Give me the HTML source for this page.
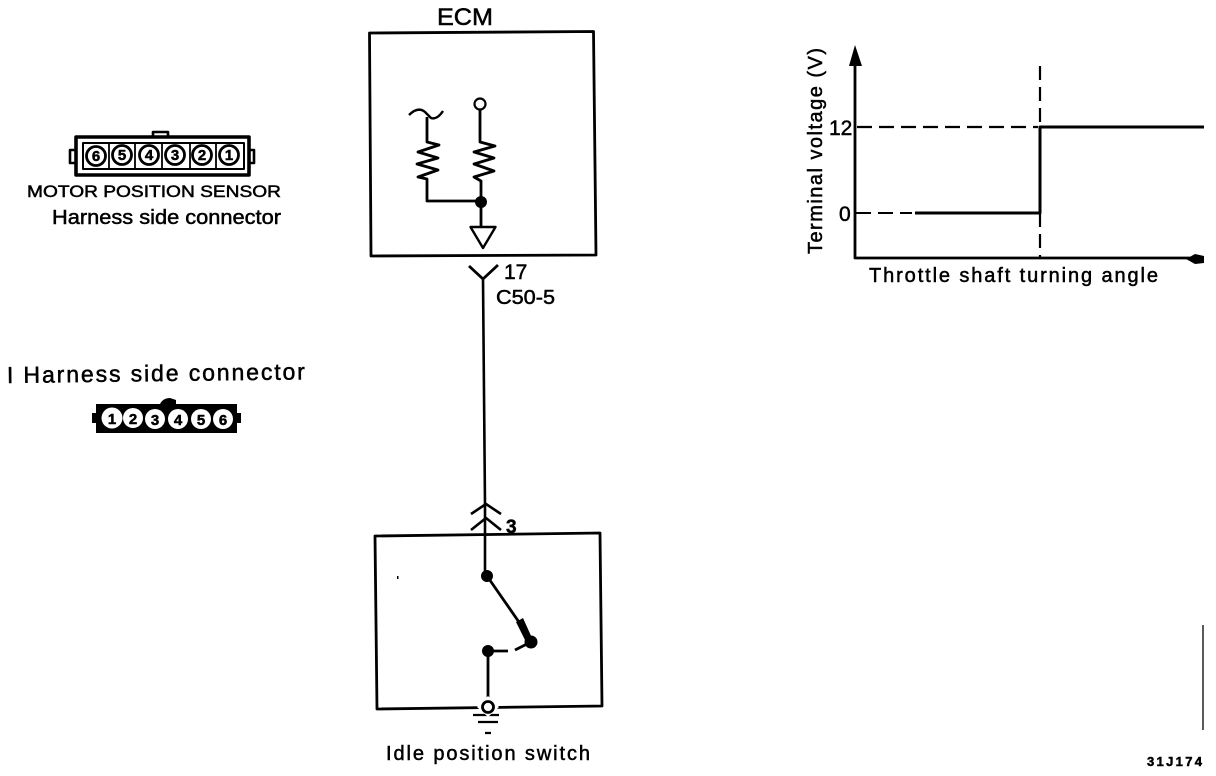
<!DOCTYPE html>
<html>
<head>
<meta charset="utf-8">
<style>
html,body{margin:0;padding:0;background:#fff;width:1216px;height:776px;overflow:hidden}
svg{display:block}
text{font-family:"Liberation Sans",sans-serif;fill:#000;stroke:#000;stroke-width:.5}
</style>
</head>
<body>
<svg width="1216" height="776" viewBox="0 0 1216 776" xmlns="http://www.w3.org/2000/svg">
<g fill="none" stroke="#000" stroke-width="2.8" stroke-linejoin="round">
  <!-- ECM box -->
  <path d="M369.5 33 L593.5 31.5 L596 255 L371 256 Z"/>
  <!-- ECM internals -->
  <path d="M409 115 Q418 106 425 112 Q429 116 431 118 Q437 120 443 111" stroke-width="2.4"/>
  <path d="M427 117 V142 L439 145 L418 152 L438 158 L417 164 L438 170 L418 177 L427 179 V201 H481"/>
  <circle cx="480" cy="104" r="5.5" stroke-width="2.2"/>
  <path d="M480 110 V142 L495 146 L474 152 L494 158 L474 164 L494 171 L474 177 L481 181 V228"/>
  <path d="M470.5 227 H495.5 L483 248 Z" stroke-width="2.4"/>
  <!-- Connector 17 -->
  <path d="M469 266 L483 279 L498 265"/>
  <path d="M483 279 L485 505 V576" stroke-width="2.6"/>
  <!-- Switch connector -->
  <path d="M471 514 L486 504 L501 514 M471 530 L486 518 L501 530 " stroke-width="2.6"/>
  <!-- Switch box -->
  <path d="M375 536 L600 533 L602 706 L377 709 Z"/>
  <path d="M487 576 L521 625 L531 642 L515 650" stroke-width="2.8"/>
  <path d="M489 651 H508" stroke-width="2.8"/>
  <path d="M488 651 V703" stroke-width="2.8"/>
  <path d="M473 715 H499 M478 722 H498 M485 733 H491" stroke-width="2.2"/>
  <!-- Graph -->
  <path d="M855 60 V258 H1190" stroke-width="2.8"/>
  <path d="M1040 66 V258" stroke-width="2.2" stroke-dasharray="14 7"/>
  <path d="M857 127 H1038" stroke-width="2.2" stroke-dasharray="15 7"/>
  <path d="M856 213 H912" stroke-width="2" stroke-dasharray="15 7"/>
  <path d="M915 213 H1040 V127 H1204" stroke-width="3"/>
  <path d="M1203 625 V730" stroke-width="1.3"/>
  <!-- Top connector -->
  <path d="M76 137 H249 V175 H76 Z" stroke-width="3.6"/>
  <path d="M83 143 H244 V169 H83 Z" stroke-width="2"/>
  <path d="M153 136 V132 H168 V136 M76 150 H70 V163 H76 M249 150 H254 V163 H249" stroke-width="2.6"/>
  <path d="M109 143 V169 M135 143 V169 M162 143 V169 M190 143 V169 M216 143 V169" stroke-width="1.8"/>
</g>
<g fill="#000" stroke="none">
  <circle cx="481" cy="202" r="6"/>
  <circle cx="487" cy="576" r="6"/>
  <circle cx="488" cy="651" r="6"/>
  <circle cx="531" cy="642" r="6.5"/>
  <path d="M516 622 L523 618 L532 638 L526 642 Z"/>
  <path d="M855 45 L862 66 H849 Z"/>
  <path d="M1186 259 L1195 254 L1204 256 V263 L1195 264 Z"/>
  <rect x="397" y="576" width="1.5" height="3"/>
  <!-- Bottom connector body -->
  <rect x="96" y="404" width="141" height="29"/>
  <path d="M160 404 Q163 398 170 398 L176 400 V404 Z"/>
  <rect x="92" y="413" width="5" height="10"/>
  <rect x="236" y="413" width="5" height="10"/>
</g>
<g fill="#fff" stroke="#000" stroke-width="2.8">
  <circle cx="96" cy="156" r="9.5"/><circle cx="122" cy="155" r="9.5"/><circle cx="149" cy="155" r="9.5"/>
  <circle cx="175" cy="155" r="9.5"/><circle cx="202" cy="155" r="9.5"/><circle cx="229" cy="155" r="9.5"/>
</g>
<g fill="#fff" stroke="none">
  <circle cx="112" cy="418" r="10.5"/><circle cx="133" cy="418" r="10"/><circle cx="155" cy="419" r="10"/>
  <circle cx="178" cy="419" r="10"/><circle cx="201" cy="419" r="10"/><circle cx="223" cy="419" r="10"/>
</g>
<path d="M488 696 L499 707 L488 717 L477 707 Z" fill="#fff" stroke="none"/>
<circle cx="488" cy="707" r="5.5" fill="#fff" stroke="#000" stroke-width="2.8"/>
<g font-size="15" font-weight="700" text-anchor="middle">
  <text x="96" y="161">6</text><text x="122" y="160">5</text><text x="149" y="160">4</text>
  <text x="175" y="160">3</text><text x="202" y="160">2</text><text x="229" y="160">1</text>
  <text x="112" y="424">1</text><text x="133" y="424">2</text><text x="155" y="425">3</text>
  <text x="178" y="425">4</text><text x="201" y="425">5</text><text x="223" y="425">6</text>
</g>
<text x="27" y="197" font-size="17" textLength="254" lengthAdjust="spacingAndGlyphs">MOTOR POSITION SENSOR</text>
<text x="52" y="224" font-size="20.5" textLength="229" lengthAdjust="spacingAndGlyphs">Harness side connector</text>
<text x="7" y="383" font-size="23" textLength="298" lengthAdjust="spacing" transform="rotate(-.7 7 383)">I Harness  side  connector</text>
<text x="437" y="25" font-size="24" stroke-width=".6" textLength="56" lengthAdjust="spacingAndGlyphs">ECM</text>
<text x="504" y="279" font-size="21" stroke-width=".6">17</text>
<text x="496" y="304" font-size="20" stroke-width=".6" textLength="59" lengthAdjust="spacingAndGlyphs">C50-5</text>
<text x="506" y="533" font-size="19" font-weight="700">3</text>
<text x="386" y="760" font-size="20" textLength="204" lengthAdjust="spacing">Idle  position  switch</text>
<text x="869" y="282" font-size="20" textLength="289" lengthAdjust="spacing">Throttle  shaft  turning  angle</text>
<text transform="translate(822 254) rotate(-90)" font-size="20" textLength="206" lengthAdjust="spacing">Terminal voltage (V)</text>
<text x="829" y="135" font-size="21" stroke-width=".6">12</text>
<text x="839" y="221" font-size="21" stroke-width=".6">0</text>
<text x="1147" y="766" font-size="13" font-weight="700" textLength="55" lengthAdjust="spacing">31J174</text>
</svg>
</body>
</html>
